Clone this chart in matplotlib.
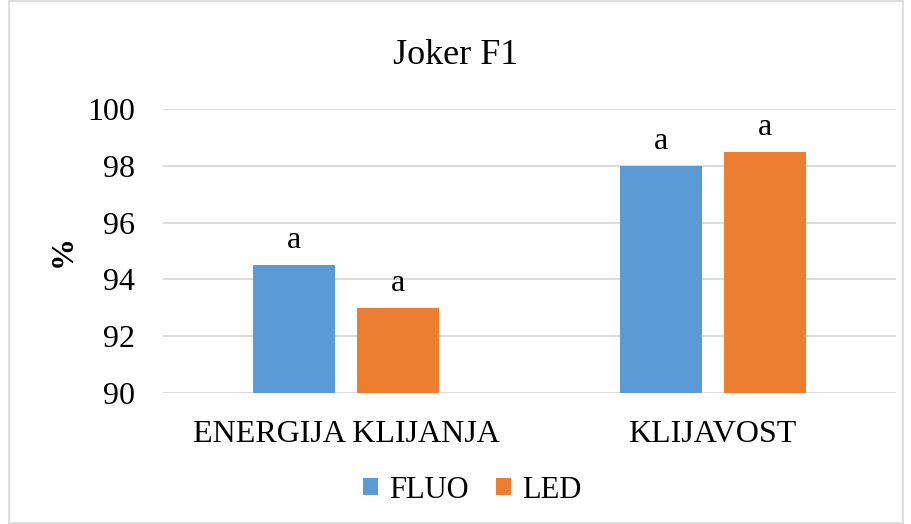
import matplotlib.pyplot as plt
import numpy as np

# data
kategorije = ['ENERGIJA KLIJANJA', 'KLIJAVOST']
fluo = [94.5, 98.0]
led = [93.0, 98.5]
oznake_fluo = ['a', 'a']
oznake_led = ['a', 'a']

plt.rcParams['font.family'] = ['Liberation Serif', 'DejaVu Serif']

fig = plt.figure(figsize=(9.12, 5.24), dpi=100)
ax = fig.add_axes([163/912, 1 - 392.7/524, (896-163)/912, (392.7-109.3)/524])

x = np.arange(len(kategorije))
w = 0.224
off = 0.142
b1 = ax.bar(x - off, np.array(fluo) - 90, w, bottom=90, color='#5B9BD5', label='FLUO', zorder=3)
b2 = ax.bar(x + off, np.array(led) - 90, w, bottom=90, color='#ED7D31', label='LED', zorder=3)

for xi, v, t in zip(x - off, fluo, oznake_fluo):
    ax.text(xi, v + 0.35, t, ha='center', va='bottom', fontsize=23)
for xi, v, t in zip(x + off, led, oznake_led):
    ax.text(xi, v + 0.35, t, ha='center', va='bottom', fontsize=23)

ax.set_xlim(-0.5, 1.5)
ax.set_ylim(90, 100)
ax.set_yticks(range(90, 101, 2))
ax.set_xticks(x)
ax.set_xticklabels(kategorije, fontsize=23)
ax.tick_params(axis='y', labelsize=23, length=0, pad=20)
ax.tick_params(axis='x', length=0, pad=20)
ax.grid(axis='y', color='#D9D9D9', linewidth=1.3, zorder=0)
for s in ax.spines.values():
    s.set_visible(False)

ax.set_ylabel('%', fontsize=23, fontweight='bold', labelpad=7)
fig.text(0.5, 1 - 55/524, 'Joker F1', ha='center', va='center', fontsize=26)

fig.legend(handles=[b1, b2], loc='center', bbox_to_anchor=(472/912, 1 - 490/524), ncol=2,
           frameon=False, fontsize=22, handlelength=0.5, handleheight=0.5,
           handletextpad=0.35, columnspacing=0.9)

# okvir oko grafa
fig.patches.append(plt.Rectangle((9/912, 0.002), 1 - 18/912, 0.996, transform=fig.transFigure,
                                 fill=False, edgecolor='#D9D9D9', linewidth=1.2))

fig.savefig('out.png', dpi=100)
